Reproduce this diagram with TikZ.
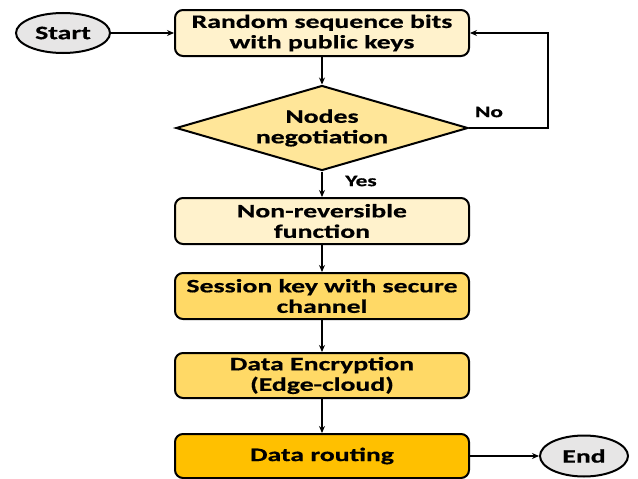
\documentclass[tikz,border=0pt]{standalone}
\usepackage{fontspec}
\setmainfont{Carlito}[FakeStretch=1.46, BoldFeatures={FakeBold=0.6}]
\usetikzlibrary{shapes.geometric,arrows.meta}
\definecolor{lightbox}{HTML}{FFF2CC}
\definecolor{midbox}{HTML}{FFD966}
\definecolor{darkbox}{HTML}{FFC000}
\definecolor{diafill}{HTML}{FFE699}
\definecolor{ovalfill}{HTML}{E7E6E6}
\tikzset{
  txt/.style={font=\fontsize{19}{20.5}\selectfont\bfseries, align=center},
  stepbox/.style={draw=black, line width=2pt, rounded corners=8pt, minimum width=294pt, minimum height=46pt, inner sep=0pt, txt},
  oval/.style={draw=black, line width=2pt, ellipse, fill=ovalfill, inner sep=0pt, txt},
  conn/.style={line width=1.8pt, -{Stealth[length=7pt,width=6pt]}},
  lbl/.style={font=\fontsize{16}{18}\selectfont\bfseries}
}
\begin{document}
\begin{tikzpicture}[x=1pt,y=-1pt]
\useasboundingbox (0,0) rectangle (638,479);
\node[oval, minimum width=94pt, minimum height=40pt] (start) at (63,33) {Start};
\node[stepbox, fill=lightbox] (b1) at (322,33) {Random sequence bits\\with public keys};
\node[diamond, draw=black, line width=2pt, fill=diafill, inner sep=0pt, minimum width=292pt, minimum height=85pt] (dia) at (322,128) {};
\node[txt] (diat) at (dia.center) {Nodes\\negotiation};
\node[stepbox, fill=lightbox] (b2) at (322,221) {Non-reversible\\function};
\node[stepbox, fill=midbox] (b3) at (322,296) {Session key with secure\\channel};
\node[stepbox, fill=midbox, minimum height=45pt] (b4) at (322,375.5) {Data Encryption\\(Edge-cloud)};
\node[stepbox, fill=darkbox, minimum height=44pt] (b5) at (322,456) {Data routing};
\node[oval, minimum width=88pt, minimum height=41pt] (end) at (584,456) {End};
\coordinate (loopc) at (548,128);
\draw[conn] (start) -- (b1);
\draw[conn] (b1) -- (dia);
\draw[conn] (dia) -- (b2);
\draw[conn] (b2) -- (b3);
\draw[conn] (b3) -- (b4);
\draw[conn] (b4) -- (b5);
\draw[conn] (b5) -- (end);
\draw[conn] (dia.east) -- (loopc) |- (b1.east);
\node[lbl] (no) at (489,112) {No};
\node[lbl] (yes) at (361,181) {Yes};
\end{tikzpicture}
\end{document}
